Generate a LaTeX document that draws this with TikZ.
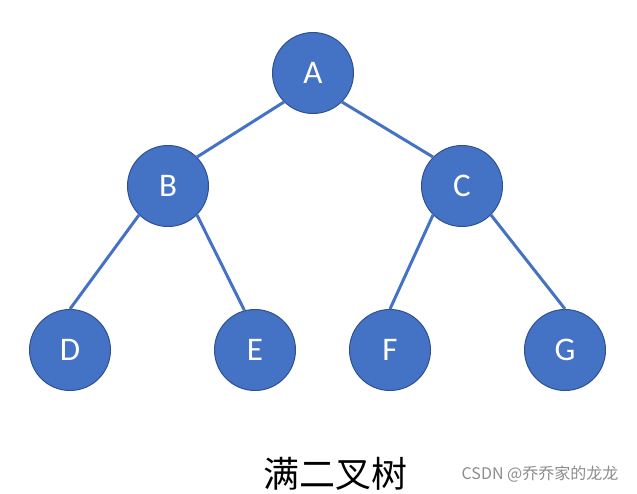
\documentclass[tikz,border=0pt]{standalone}
\usepackage{fontspec}
\setmainfont{Carlito}
\newfontfamily\cjk{Noto Sans CJK SC}
\definecolor{nodefill}{HTML}{4472C4}
\definecolor{nodeline}{HTML}{2F528F}
\definecolor{edgecol}{HTML}{4472C4}
\begin{document}
\begin{tikzpicture}[x=1pt,y=-1pt,
  treenode/.style={circle,fill=nodefill,draw=nodeline,line width=1pt,minimum size=81pt,inner sep=0pt,text=white,font=\fontsize{33}{33}\selectfont},
  edge/.style={draw=edgecol,line width=3pt}]
\useasboundingbox (0,0) rectangle (637,493);
\node[treenode] (A) at (313,73) {A};
\node[treenode] (B) at (168,186) {B};
\node[treenode] (C) at (462,186) {C};
\node[treenode] (D) at (70,350) {D};
\node[treenode] (E) at (255,350) {E};
\node[treenode] (F) at (390,350) {F};
\node[treenode] (G) at (565,350) {G};
\draw[edge] (A.south west) -- (B.north east);
\draw[edge] (A.south east) -- (C.north west);
\draw[edge] (B.south west) -- (D.north);
\draw[edge] (B.south east) -- (E.105);
\draw[edge] (C.south west) -- (F.north);
\draw[edge] (C.south east) -- (G.north);
\node[font=\cjk\fontsize{36}{36}\selectfont] (title) at (335,474) {满二叉树};
\node[font=\cjk\fontsize{16}{16}\selectfont,text=black!45] (wm) at (540,474) {CSDN @乔乔家的龙龙};
\end{tikzpicture}
\end{document}
